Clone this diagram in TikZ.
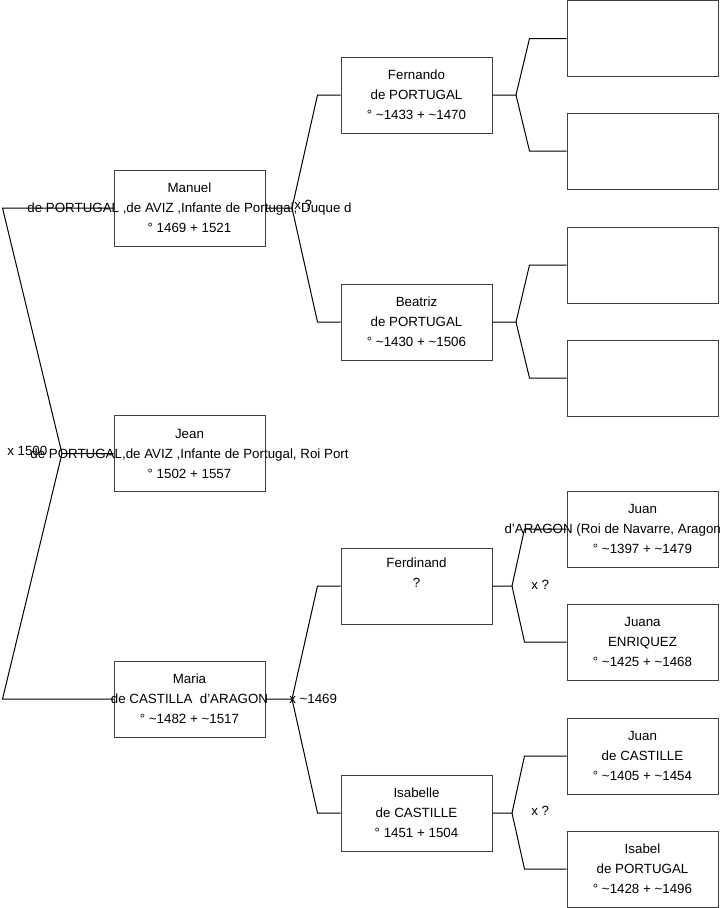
\documentclass[tikz,border=0pt]{standalone}
\usepackage{fontspec}
\setmainfont{Liberation Sans}
\usetikzlibrary{positioning}

\begin{document}
\begin{tikzpicture}[
      x=0.75pt, y=-0.75pt,
      font=\fontsize{10}{15}\selectfont,
      pbox/.style={draw=black!75, line width=0.75pt, align=center, inner sep=0pt,
                   minimum width=113.25pt, minimum height=57pt},
      lnk/.style={line width=0.75pt},
      mar/.style={anchor=west, inner sep=0pt}]
    \useasboundingbox (0,0) rectangle (719,908);
    % generation 1
    \node[pbox] (jean) at (189.5,453.5) {Jean\\\makebox[0pt]{de PORTUGAL,de AVIZ ,Infante de Portugal, Roi Port}\\° 1502 + 1557};
    % generation 2
    \node[pbox] (manuel) at (189.5,208) {Manuel\\\makebox[0pt]{de PORTUGAL ,de AVIZ ,Infante de Portugal, Duque d}\\° 1469 + 1521};
    \node[pbox] (maria) at (189.5,699) {Maria\\\makebox[0pt]{de CASTILLA\ \ d'ARAGON}\\° \textasciitilde1482 + \textasciitilde1517};
    % generation 3
    \node[pbox] (fernando) at (416.5,95) {Fernando\\de PORTUGAL\\° \textasciitilde1433 + \textasciitilde1470};
    \node[pbox] (beatriz) at (416.5,322) {Beatriz\\de PORTUGAL\\° \textasciitilde1430 + \textasciitilde1506};
    \node[pbox] (ferdinand) at (416.5,586) {Ferdinand\\?\\\strut};
    \node[pbox] (isabelle) at (416.5,813) {Isabelle\\de CASTILLE\\° 1451 + 1504};
    % generation 4
    \node[pbox] (vide1) at (642.5,38.5) {};
    \node[pbox] (vide2) at (642.5,151) {};
    \node[pbox] (vide3) at (642.5,265) {};
    \node[pbox] (vide4) at (642.5,378) {};
    \node[pbox] (juan) at (642.5,529) {Juan\\\makebox[0pt][l]{\hspace{-103.5pt}d'ARAGON (Roi de Navarre, Aragon}\\° \textasciitilde1397 + \textasciitilde1479};
    \node[pbox] (juana) at (642.5,642) {Juana\\ENRIQUEZ\\° \textasciitilde1425 + \textasciitilde1468};
    \node[pbox] (juanc) at (642.5,756) {Juan\\de CASTILLE\\° \textasciitilde1405 + \textasciitilde1454};
    \node[pbox] (isabel) at (642.5,869) {Isabel\\de PORTUGAL\\° \textasciitilde1428 + \textasciitilde1496};
    % forks
    \coordinate (xjean) at (62,453.5);
    \coordinate (xmanuel) at (292,208);
    \coordinate (xmaria) at (292,699);
    \coordinate (xfernando) at (516,95);
    \coordinate (xbeatriz) at (516,322);
    \coordinate (xferdinand) at (512,586);
    \coordinate (xisabelle) at (512,813);
    \draw[lnk] (jean.west) -- (xjean) -- ([xshift=-83.25pt]manuel.west) -- (manuel.west);
    \draw[lnk] (xjean) -- ([xshift=-83.25pt]maria.west) -- (maria.west);
    \draw[lnk] (manuel.east) -- (xmanuel) -- ([xshift=-17.25pt]fernando.west) -- (fernando.west);
    \draw[lnk] (xmanuel) -- ([xshift=-17.25pt]beatriz.west) -- (beatriz.west);
    \draw[lnk] (maria.east) -- (xmaria) -- ([xshift=-17.25pt]ferdinand.west) -- (ferdinand.west);
    \draw[lnk] (xmaria) -- ([xshift=-17.25pt]isabelle.west) -- (isabelle.west);
    \draw[lnk] (fernando.east) -- (xfernando) -- ([xshift=-27.75pt]vide1.west) -- (vide1.west);
    \draw[lnk] (xfernando) -- ([xshift=-27.75pt]vide2.west) -- (vide2.west);
    \draw[lnk] (beatriz.east) -- (xbeatriz) -- ([xshift=-27.75pt]vide3.west) -- (vide3.west);
    \draw[lnk] (xbeatriz) -- ([xshift=-27.75pt]vide4.west) -- (vide4.west);
    \draw[lnk] (ferdinand.east) -- (xferdinand) -- ([xshift=-31.5pt]juan.west) -- (juan.west);
    \draw[lnk] (xferdinand) -- ([xshift=-31.5pt]juana.west) -- (juana.west);
    \draw[lnk] (isabelle.east) -- (xisabelle) -- ([xshift=-31.5pt]juanc.west) -- (juanc.west);
    \draw[lnk] (xisabelle) -- ([xshift=-31.5pt]isabel.west) -- (isabel.west);
    % marriages
    \node[mar] (mjean) at (7,451) {x 1500};
    \node[mar] (mmanuel) at (294,205) {x ?};
    \node[mar] (mmaria) at (289,699) {x \textasciitilde1469};
    \node[mar] (mferdinand) at (531,585) {x ?};
    \node[mar] (misabelle) at (531,811) {x ?};
  \end{tikzpicture}
\end{document}
